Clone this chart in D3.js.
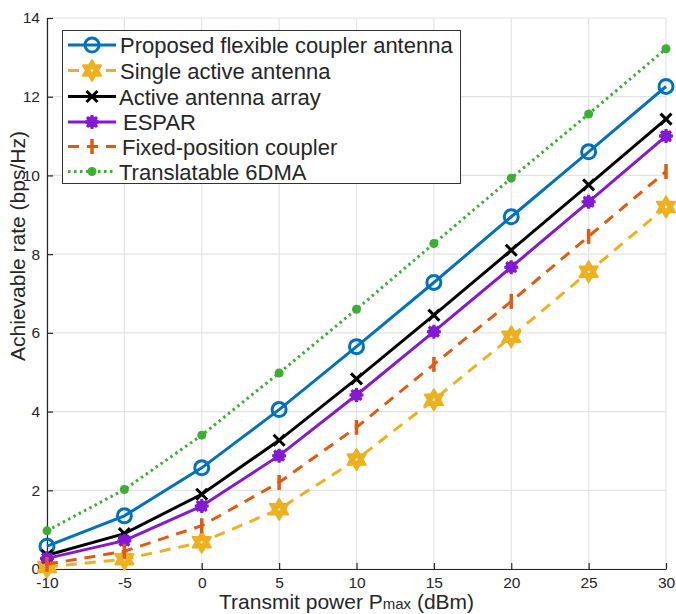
<!DOCTYPE html>
<html>
<head>
<meta charset="utf-8">
<script src="https://cdn.jsdelivr.net/npm/d3@7"></script>
<style>
  body { margin: 0; background: #fff; }
  svg text { font-family: "Liberation Sans", Arial, Helvetica, sans-serif; fill: #262626; }
</style>
</head>
<body>
<div id="chart"></div>
<script>
// transmit power (dBm)
const powers = [-10, -5, 0, 5, 10, 15, 20, 25, 30];

const proposedRate = [0.58, 1.35, 2.57, 4.05, 5.65, 7.28, 8.95, 10.6, 12.26];
const singleRate   = [0.05, 0.25, 0.68, 1.52, 2.78, 4.3, 5.9, 7.55, 9.2];
const arrayRate    = [0.35, 0.9, 1.9, 3.27, 4.83, 6.45, 8.1, 9.76, 11.43];
const esparRate    = [0.27, 0.72, 1.6, 2.88, 4.42, 6.03, 7.67, 9.33, 11.0];
const fixedRate    = [0.12, 0.45, 1.1, 2.2, 3.6, 5.2, 6.8, 8.45, 10.1];
const sixdmaRate   = [0.97, 2.02, 3.4, 4.98, 6.6, 8.27, 9.93, 11.56, 13.22];

const xTicks = [-10, -5, 0, 5, 10, 15, 20, 25, 30];
const yTicks = [0, 2, 4, 6, 8, 10, 12, 14];

const series = [
  { name: 'Proposed flexible coupler antenna', values: proposedRate, color: '#0072BD', dash: null, marker: 'circle' },
  { name: 'Single active antenna', values: singleRate, color: '#EDB120', dash: '11,8', marker: 'hexagram' },
  { name: 'Active antenna array', values: arrayRate, color: '#000000', dash: null, marker: 'x' },
  { name: 'ESPAR', values: esparRate, color: '#8418D4', dash: null, marker: 'asterisk' },
  { name: 'Fixed-position coupler', values: fixedRate, color: '#E05A10', dash: '11,8', marker: 'vbar' },
  { name: 'Translatable 6DMA', values: sixdmaRate, color: '#3DAE35', dash: '2.5,3.5', marker: 'dot' }
];

const width = 676, height = 614;
const margin = { left: 47, right: 10, top: 18, bottom: 45 };

const svg = d3.select('#chart').append('svg')
  .attr('width', width)
  .attr('height', height);

const x = d3.scaleLinear().domain([-10, 30]).range([margin.left, 666]);
const y = d3.scaleLinear().domain([0, 14]).range([569, margin.top]);

// grid
svg.append('g')
  .selectAll('line')
  .data(xTicks)
  .join('line')
  .attr('x1', d => x(d)).attr('x2', d => x(d))
  .attr('y1', y(0)).attr('y2', y(14))
  .attr('stroke', '#e3e3e3').attr('stroke-width', 1.2);

svg.append('g')
  .selectAll('line')
  .data(yTicks)
  .join('line')
  .attr('x1', x(-10)).attr('x2', x(30))
  .attr('y1', d => y(d)).attr('y2', d => y(d))
  .attr('stroke', '#e3e3e3').attr('stroke-width', 1.2);

// axes (inward ticks, matlab style)
const xAxis = svg.append('g')
  .attr('transform', `translate(0,${y(0)})`)
  .call(d3.axisBottom(x).tickValues(xTicks).tickFormat(d => String(d))
    .tickSizeInner(-6).tickSizeOuter(0).tickPadding(8));
const yAxis = svg.append('g')
  .attr('transform', `translate(${x(-10)},0)`)
  .call(d3.axisLeft(y).tickValues(yTicks).tickSizeInner(-6).tickSizeOuter(0).tickPadding(7));

[xAxis, yAxis].forEach(a => {
  a.select('.domain').attr('stroke', '#262626').attr('stroke-width', 1.2);
  a.selectAll('.tick line').attr('stroke', '#262626').attr('stroke-width', 1.2);
  a.selectAll('.tick text')
    .style('font-family', '"Liberation Sans", Arial, sans-serif')
    .style('font-size', '15.5px')
    .attr('fill', '#262626');
});

// marker drawing
function hexagramPath(r) {
  const pts = [];
  const ri = r / Math.sqrt(3);
  for (let i = 0; i < 12; i++) {
    const a = -Math.PI / 2 + i * Math.PI / 6;
    const rr = i % 2 === 0 ? r : ri;
    pts.push([rr * Math.cos(a), rr * Math.sin(a)]);
  }
  return 'M' + pts.map(p => p.join(',')).join('L') + 'Z';
}

function drawMarker(g, type, color) {
  if (type === 'circle') {
    g.append('circle').attr('r', 7).attr('fill', 'none')
      .attr('stroke', color).attr('stroke-width', 3);
  } else if (type === 'hexagram') {
    g.append('path').attr('d', hexagramPath(10.5)).attr('fill', color)
      .attr('stroke', color).attr('stroke-width', 2).attr('stroke-linejoin', 'round');
    g.append('circle').attr('r', 1.3).attr('fill', '#fbe8b8');
  } else if (type === 'x') {
    g.append('path').attr('d', 'M-5.5,-5.5L5.5,5.5M-5.5,5.5L5.5,-5.5')
      .attr('stroke', color).attr('stroke-width', 3);
  } else if (type === 'asterisk') {
    g.append('path').attr('d', 'M0,-7V7M-7,0H7M-5,-5L5,5M-5,5L5,-5')
      .attr('stroke', color).attr('stroke-width', 3);
    g.append('circle').attr('r', 5.8).attr('fill', color);
  } else if (type === 'vbar') {
    g.append('line').attr('y1', -7.5).attr('y2', 7.5)
      .attr('stroke', color).attr('stroke-width', 3.5);
  } else if (type === 'dot') {
    g.append('circle').attr('r', 4.5).attr('fill', color);
  }
}

const line = d3.line().x((d, i) => x(powers[i])).y(d => y(d));

series.forEach(s => {
  const g = svg.append('g');
  g.append('path')
    .datum(s.values)
    .attr('d', line)
    .attr('fill', 'none')
    .attr('stroke', s.color)
    .attr('stroke-width', 3)
    .attr('stroke-dasharray', s.dash);
  s.values.forEach((v, i) => {
    const mg = g.append('g').attr('transform', `translate(${x(powers[i])},${y(v)})`);
    drawMarker(mg, s.marker, s.color);
  });
});

// legend
const legend = svg.append('g');
legend.append('rect')
  .attr('x', 62.5).attr('y', 30.5)
  .attr('width', 398).attr('height', 153)
  .attr('fill', '#fff')
  .attr('stroke', '#333').attr('stroke-width', 1);

const rowY = [45, 70.5, 96.5, 122, 146.5, 171.5];
const textX = [120, 120, 119, 123, 122, 119];
series.forEach((s, i) => {
  const row = legend.append('g').attr('transform', `translate(0,${rowY[i]})`);
  row.append('line')
    .attr('x1', 68).attr('x2', 116)
    .attr('stroke', s.color).attr('stroke-width', 3)
    .attr('stroke-dasharray', s.dash);
  const mg = row.append('g').attr('transform', 'translate(92,0)');
  drawMarker(mg, s.marker, s.color);
  row.append('text')
    .attr('x', textX[i]).attr('y', 8)
    .style('font-size', '22px')
    .text(s.name);
});

// axis labels
svg.append('text')
  .attr('transform', 'translate(25,246) rotate(-90)')
  .attr('text-anchor', 'middle')
  .style('font-size', '21px')
  .text('Achievable rate (bps/Hz)');

const xl = svg.append('text')
  .attr('x', 219).attr('y', 608.5)
  .style('font-size', '21px');
xl.append('tspan').text('Transmit power P');
xl.append('tspan').style('font-size', '15px').text('max');
xl.append('tspan').text(' (dBm)');
</script>
</body>
</html>
